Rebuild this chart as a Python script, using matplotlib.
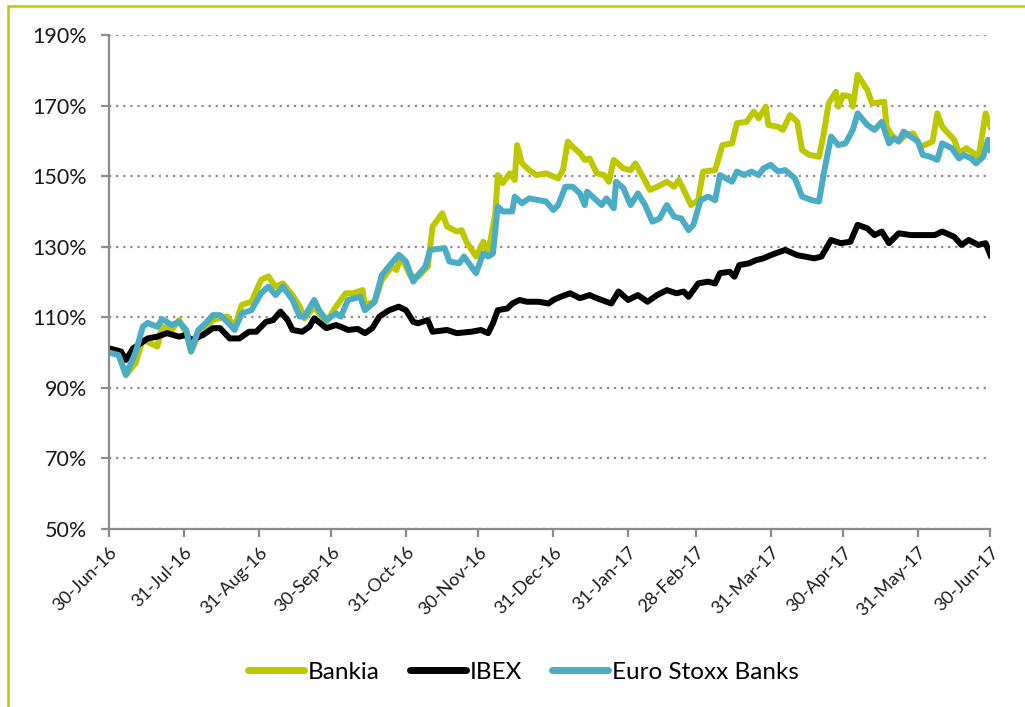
import pandas as pd
import numpy as np
import matplotlib
matplotlib.use('Agg')
import matplotlib.pyplot as plt
from matplotlib.patches import Rectangle
from matplotlib.ticker import FuncFormatter

# days since 30-Jun-16 and value (%)
bankia_days = [0, 4, 7, 11, 14, 16, 20, 22, 26, 29, 32, 34, 37, 40, 43, 46, 49, 52, 55, 59,
               63, 66, 69, 72, 76, 79, 81, 85, 87, 90, 94, 98, 101, 105, 106, 110, 113, 117, 119, 121,
               125, 128, 132, 134, 138, 140, 144, 146, 148, 152, 155, 157, 160, 161, 163, 166, 168, 169, 171, 174,
               177, 181, 184, 186, 188, 190, 192, 195, 197, 199, 202, 205, 207, 209, 213, 216, 218, 221, 224, 227,
               231, 234, 236, 238, 241, 244, 246, 251, 254, 258, 260, 264, 267, 269, 272, 273, 277, 279, 282, 285,
               287, 290, 294, 296, 298, 301, 302, 304, 307, 308, 310, 314, 316, 321, 322, 324, 327, 330, 333, 336,
               341, 343, 345, 350, 352, 355, 358, 360, 363, 365]
bankia = [100.3, 99.4, 93.6, 97.0, 103.6, 103.0, 101.7, 107.3, 106.4, 109.2, 105.5, 100.3, 105.0, 107.3, 109.2, 109.8, 110.2, 107.3, 113.5, 114.4,
          120.6, 121.6, 118.7, 119.6, 116.3, 113.0, 109.7, 113.0, 111.1, 108.7, 113.0, 116.8, 116.8, 117.7, 113.5, 114.4, 120.6, 124.3, 123.4, 127.2,
          121.5, 121.5, 124.3, 135.7, 139.5, 135.7, 134.3, 134.7, 131.4, 127.2, 131.4, 128.1, 139.5, 150.3, 148.0, 150.8, 148.9, 158.8, 153.7, 151.7,
          150.3, 150.8, 149.9, 149.4, 151.7, 159.8, 158.3, 156.5, 154.6, 155.0, 150.8, 150.3, 148.4, 154.6, 152.2, 151.7, 153.6, 149.9, 146.1, 147.0,
          148.4, 147.0, 148.9, 146.1, 141.8, 143.2, 151.3, 151.7, 158.8, 159.3, 165.0, 165.4, 168.3, 166.4, 169.7, 164.5, 164.0, 163.1, 167.3, 165.4,
          157.4, 156.0, 155.5, 162.1, 170.6, 173.9, 169.7, 173.0, 172.5, 169.7, 178.7, 174.4, 170.6, 171.1, 164.0, 161.7, 159.8, 161.7, 162.1, 158.3,
          159.8, 167.8, 164.0, 160.3, 156.5, 157.9, 156.5, 155.0, 167.8, 164.0]

ibex_days = [0, 5, 7, 10, 12, 16, 20, 24, 29, 32, 34, 39, 43, 46, 50, 54, 58, 61, 65, 68,
             71, 74, 76, 80, 83, 85, 90, 94, 96, 99, 103, 106, 109, 112, 116, 120, 123, 126, 128, 132,
             134, 140, 144, 150, 154, 157, 159, 161, 165, 167, 170, 173, 178, 182, 184, 187, 191, 195, 199, 202,
             208, 211, 215, 219, 223, 227, 231, 235, 238, 240, 244, 248, 251, 253, 257, 259, 261, 265, 268, 271,
             274, 280, 285, 292, 295, 299, 303, 307, 310, 314, 317, 320, 323, 327, 332, 338, 342, 345, 350, 353,
             356, 360, 363, 365]
ibex = [101.2, 100.3, 97.9, 101.2, 102.1, 104.0, 104.5, 105.5, 104.5, 105.0, 103.5, 105.0, 106.9, 106.9, 104.0, 104.0, 105.9, 105.9, 108.7, 109.2,
        111.6, 109.2, 106.4, 105.9, 107.3, 109.7, 106.9, 107.8, 107.3, 106.4, 106.7, 105.5, 106.9, 110.2, 112.0, 113.0, 112.0, 108.7, 108.3, 109.2,
        105.9, 106.4, 105.5, 105.9, 106.4, 105.5, 108.3, 112.0, 112.5, 113.9, 114.9, 114.4, 114.4, 113.9, 114.9, 115.8, 116.8, 115.4, 116.3, 115.4,
        113.9, 117.3, 114.9, 116.3, 114.4, 116.3, 117.7, 116.8, 117.3, 115.8, 119.6, 120.1, 119.6, 122.5, 122.9, 121.5, 124.8, 125.3, 126.2, 126.7,
        127.6, 129.1, 127.6, 126.7, 127.2, 131.9, 131.0, 131.4, 136.2, 135.2, 133.3, 134.3, 131.0, 133.8, 133.3, 133.3, 133.3, 134.3, 132.8, 130.5,
        131.9, 130.5, 131.0, 127.6]

stoxx_days = [0, 4, 7, 11, 14, 16, 20, 22, 26, 29, 32, 34, 37, 40, 43, 46, 49, 52, 55, 59,
              63, 66, 69, 72, 76, 79, 81, 85, 87, 90, 94, 96, 99, 104, 106, 110, 113, 117, 120, 123,
              126, 128, 131, 133, 139, 141, 145, 147, 152, 155, 157, 159, 161, 163, 167, 168, 171, 174, 178, 181,
              184, 186, 189, 192, 195, 197, 198, 201, 204, 206, 209, 210, 213, 216, 219, 222, 225, 228, 231, 234,
              237, 240, 242, 245, 248, 251, 253, 258, 260, 263, 266, 269, 271, 274, 277, 280, 284, 287, 291, 294,
              296, 299, 302, 305, 308, 310, 314, 317, 320, 323, 325, 327, 329, 332, 335, 337, 340, 343, 345, 349,
              352, 354, 357, 359, 362, 364, 365]
stoxx = [100.0, 99.3, 93.7, 100.0, 107.3, 108.4, 107.3, 109.5, 107.8, 108.7, 106.4, 100.3, 106.4, 108.3, 110.6, 110.6, 108.7, 106.4, 111.1, 112.0,
         116.8, 118.7, 116.3, 118.7, 114.9, 110.2, 110.2, 114.9, 112.0, 109.2, 111.1, 110.2, 114.9, 115.8, 112.0, 114.4, 122.0, 125.3, 127.7, 125.8,
         120.1, 122.0, 124.3, 129.1, 129.6, 125.8, 125.3, 127.2, 122.5, 128.1, 127.2, 128.1, 141.4, 140.0, 140.0, 144.2, 142.3, 143.7, 143.2, 142.8,
         140.4, 141.8, 147.0, 147.0, 145.1, 141.8, 145.6, 143.7, 141.8, 143.7, 140.9, 148.4, 146.6, 141.8, 145.1, 141.8, 137.1, 138.0, 141.8, 138.5,
         138.0, 134.7, 136.2, 143.2, 144.2, 143.2, 150.3, 148.4, 151.3, 150.3, 151.3, 150.3, 152.2, 153.2, 151.3, 151.7, 149.4, 144.2, 143.2, 142.8,
         150.8, 161.2, 158.8, 159.3, 163.1, 167.8, 164.5, 163.1, 165.4, 159.3, 160.7, 159.8, 162.6, 161.2, 159.8, 156.0, 155.5, 154.6, 159.3, 157.9,
         155.0, 156.0, 155.0, 153.6, 155.5, 160.3, 157.4]

start = pd.Timestamp('2016-06-30')
end = pd.Timestamp('2017-06-30')


def to_dates(days):
    return start + pd.to_timedelta(days, unit='D')


green = '#BDC800'
blue = '#4BACC6'
grey = '#8C8C8C'

plt.rcParams['font.family'] = ['Lato', 'DejaVu Sans']

fig = plt.figure(figsize=(10.25, 7.07), dpi=100)
ax = fig.add_axes([0.1063, 0.2518, 0.8600, 0.6987])

lw = 4.3
ax.plot(to_dates(bankia_days), bankia, color=green, lw=lw, label='Bankia', solid_joinstyle='round')
ax.plot(to_dates(ibex_days), ibex, color='black', lw=lw, label='IBEX', solid_joinstyle='round')
ax.plot(to_dates(stoxx_days), stoxx, color=blue, lw=lw, label='Euro Stoxx Banks', solid_joinstyle='round')

ax.set_xlim(start, end)
ax.set_ylim(50, 190)
ax.set_yticks(np.arange(50, 191, 20))
ax.yaxis.set_major_formatter(FuncFormatter(lambda v, p: '%d%%' % v))

month_ends = pd.date_range(start, end, freq='ME')
ax.set_xticks(month_ends)
ax.set_xticklabels([d.strftime('%d-%b-%y') for d in month_ends], rotation=45,
                   ha='right', va='top', rotation_mode='anchor', fontsize=13)

ax.grid(axis='y', color='#8C8C8C', linestyle=(0, (1, 2.2)), linewidth=1.6)
ax.set_axisbelow(True)

for s in ['top', 'right']:
    ax.spines[s].set_visible(False)
for s in ['left', 'bottom']:
    ax.spines[s].set_color(grey)
    ax.spines[s].set_linewidth(1.6)

ax.tick_params(axis='y', colors=grey, length=6, width=1.6, labelsize=15.5, labelcolor='#1a1a1a', pad=10)
ax.tick_params(axis='x', colors=grey, length=6, width=1.6, labelcolor='#1a1a1a', pad=5)

leg = ax.legend(loc='center', bbox_to_anchor=(0.47, -0.29), ncol=3, frameon=False,
                fontsize=17.5, handlelength=2.3, handletextpad=0.15, columnspacing=1.25)
for l in leg.get_lines():
    l.set_linewidth(5)
    l.set_solid_capstyle('round')

# outer frame
fig.patches.append(Rectangle((0.0078, -0.05), 1.1, 1.0415, transform=fig.transFigure,
                             fill=False, edgecolor=green, linewidth=1.8, clip_on=False))

plt.savefig('out.png', dpi=100)
